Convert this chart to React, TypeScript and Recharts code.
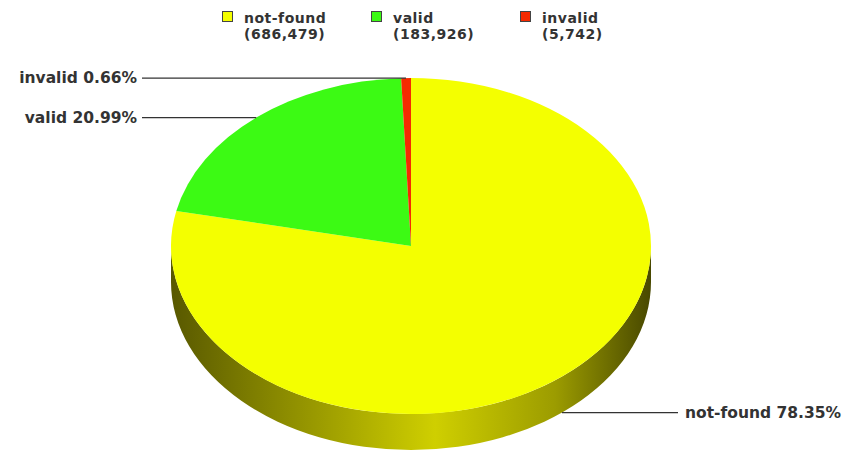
import React from 'react';
import { PieChart, Pie, Legend } from 'recharts';

const categories = ['not-found', 'valid', 'invalid'];
const counts = [686479, 183926, 5742];
const colors = ['#f4ff00', '#3cfa14', '#f52a00'];

const data = categories.map((name, i) => ({ name, value: counts[i], fill: colors[i] }));

// flattening of the pie and thickness of the rim, relative to the radius
const TILT = 0.7;
const DEPTH = 0.15;
const FONT = '"DejaVu Sans", sans-serif';

const pt = (cx: number, cy: number, rx: number, ry: number, a: number) => {
    const r = (a * Math.PI) / 180;
    return [cx + rx * Math.cos(r), cy - ry * Math.sin(r)];
};

const EllipseSector = (props: any) => {
    const { cx, cy, outerRadius, startAngle, endAngle, fill } = props;
    const rx = outerRadius;
    const ry = rx * TILT;
    const d = rx * DEPTH;

    const sides: string[] = [];
    const lo = Math.min(startAngle, endAngle);
    const hi = Math.max(startAngle, endAngle);
    for (let k = -2; k <= 1; k++) {
        const a = Math.max(lo, -180 + 360 * k);
        const b = Math.min(hi, 360 * k);
        if (b > a) {
            const [ax, ay] = pt(cx, cy, rx, ry, a);
            const [bx, by] = pt(cx, cy, rx, ry, b);
            sides.push(
                `M${ax},${ay} A${rx},${ry} 0 0 0 ${bx},${by} L${bx},${by + d} A${rx},${ry} 0 0 1 ${ax},${ay + d} Z`
            );
        }
    }

    const [sx, sy] = pt(cx, cy, rx, ry, startAngle);
    const [ex, ey] = pt(cx, cy, rx, ry, endAngle);
    const span = Math.abs(startAngle - endAngle);
    const top = `M${cx},${cy} L${sx},${sy} A${rx},${ry} 0 ${span > 180 ? 1 : 0} ${startAngle > endAngle ? 1 : 0} ${ex},${ey} Z`;

    return (
        <g>
            <defs>
                <linearGradient id={`rim-${props.index}`} gradientUnits="userSpaceOnUse" x1={cx - rx} y1={0} x2={cx + rx} y2={0}>
                    <stop offset="0%" stopColor="#585800" />
                    <stop offset="20%" stopColor="#848400" />
                    <stop offset="55%" stopColor="#cfcf00" />
                    <stop offset="80%" stopColor="#9c9c00" />
                    <stop offset="100%" stopColor="#484800" />
                </linearGradient>
            </defs>
            {sides.map((p, i) => (
                <path key={i} d={p} fill={`url(#rim-${props.index})`} />
            ))}
            <path d={top} fill={fill} />
        </g>
    );
};

const renderLabel = (props: any) => {
    const { cx, cy, outerRadius, startAngle, endAngle, name, percent } = props;
    const mid = props.midAngle ?? (startAngle + endAngle) / 2;
    const rx = outerRadius;
    const ry = rx * TILT;
    let [x, y] = pt(cx, cy, rx, ry, mid);
    if (Math.sin((mid * Math.PI) / 180) < 0) y += rx * DEPTH;
    const right = Math.cos((mid * Math.PI) / 180) > 0;
    const end = right ? cx + rx + 27 : cx - rx - 29;
    return (
        <g>
            <line x1={x} y1={y} x2={end} y2={y} stroke="#333" strokeWidth={1.3} />
            <text
                x={right ? end + 7 : end - 5}
                y={y}
                textAnchor={right ? 'start' : 'end'}
                dominantBaseline="central"
                fontFamily={FONT}
                fontWeight="bold"
                fontSize={15.5}
                fill="#333"
            >
                {`${name} ${(percent * 100).toFixed(2)}%`}
            </text>
        </g>
    );
};

const renderLegend = () => (
    <div style={{ position: 'relative', height: 0, width: 859 }}>
        {categories.map((name, i) => (
            <div key={name} style={{ position: 'absolute', left: 222 + i * 149, top: 11 }}>
                <div
                    style={{
                        position: 'absolute',
                        left: 0,
                        top: 0,
                        width: 11,
                        height: 11,
                        boxSizing: 'border-box',
                        background: colors[i],
                        border: '1px solid #444',
                    }}
                />
                <div
                    style={{
                        position: 'absolute',
                        left: 22,
                        top: -1.5,
                        fontFamily: FONT,
                        fontWeight: 'bold',
                        fontSize: 14,
                        letterSpacing: 0.5,
                        lineHeight: '16.5px',
                        color: '#333',
                        whiteSpace: 'nowrap',
                    }}
                >
                    <div>{name}</div>
                    <div>({counts[i].toLocaleString('en-US')})</div>
                </div>
            </div>
        ))}
    </div>
);

export default function App() {
    return (
        <div style={{ position: 'absolute', left: 0, top: 0, background: '#fff' }}>
            <PieChart width={859} height={451} margin={{ top: 0, right: 0, bottom: 0, left: 0 }}>
                <Legend verticalAlign="top" content={renderLegend} wrapperStyle={{ top: 0, left: 0 }} />
                <Pie
                    data={data}
                    dataKey="value"
                    nameKey="name"
                    cx={411}
                    cy={246}
                    outerRadius={240}
                    startAngle={90}
                    endAngle={-270}
                    stroke="none"
                    shape={EllipseSector}
                    activeShape={EllipseSector}
                    label={renderLabel}
                    labelLine={false}
                    isAnimationActive={false}
                />
            </PieChart>
        </div>
    );
}
